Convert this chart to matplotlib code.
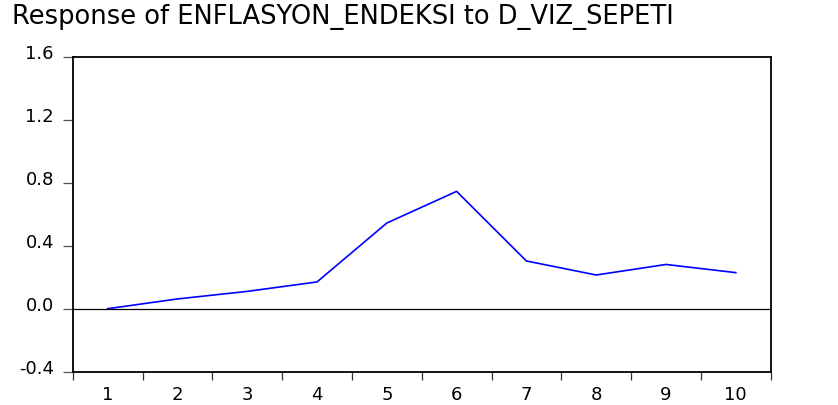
import matplotlib
matplotlib.use("Agg")
import matplotlib.pyplot as plt
import matplotlib.transforms as mtransforms
import numpy as np

periods = [1, 2, 3, 4, 5, 6, 7, 8, 9, 10]
response = [0.0, 0.062, 0.11, 0.17, 0.544, 0.745, 0.303, 0.214, 0.281, 0.229]
y_ticks = [-0.4, 0.0, 0.4, 0.8, 1.2, 1.6]
y_labels = ["-0.4", "0.0", "0.4", "0.8", "1.2", "1.6"]
title = "Response of ENFLASYON_ENDEKSI to D_VIZ_SEPETI"

plt.rcParams["font.family"] = ["DejaVu Sans"]

fig = plt.figure(figsize=(8.38, 4.05), dpi=100)
ax = fig.add_axes([0.0868, 0.0822, 0.9197 - 0.0868, 0.86 - 0.0822])

ax.plot(periods, response, color="#0000ff", lw=1.2)
ax.axhline(0, color="black", lw=0.9)

ax.set_xlim(0.5, 10.5)
ax.set_ylim(-0.4, 1.6)

ax.set_yticks(y_ticks)
ax.set_yticklabels(y_labels, fontsize=13)
ax.tick_params(axis="y", direction="out", length=7.5, width=0.9, color="#555555", pad=6)
# labels sit a little above their ticks
shift = mtransforms.ScaledTranslation(0, 5 / 100, fig.dpi_scale_trans)
for lab in ax.get_yticklabels():
    lab.set_transform(lab.get_transform() + shift)

# boundary ticks without labels, period labels without ticks
ax.set_xticks(np.arange(0.5, 11, 1.0))
ax.set_xticklabels([])
ax.set_xticks(periods, minor=True)
ax.set_xticklabels([str(p) for p in periods], minor=True, fontsize=13)
ax.tick_params(axis="x", which="major", direction="out", length=6, width=0.9, color="#333333")
ax.tick_params(axis="x", which="minor", length=0, pad=10)

for s in ax.spines.values():
    s.set_linewidth(1.3)
    s.set_color("black")

fig.text(12 / 838, (405 - 24) / 405, title, fontsize=18.5, va="baseline", ha="left")

fig.savefig("out.png", dpi=100)
